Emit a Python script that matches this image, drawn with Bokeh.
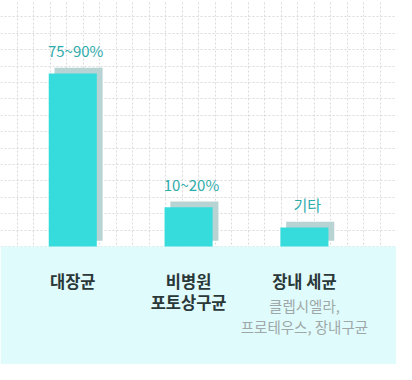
import numpy as np
from bokeh.plotting import figure
from bokeh.models import ColumnDataSource, Grid, FixedTicker, Range1d
from bokeh.core.properties import value
from bokeh.embed import file_html
from bokeh.resources import INLINE

# ---- data ----
categories = ["대장균", "비병원\n포토상구균", "장내 세균"]
range_labels = ["75~90%", "10~20%", "기타"]
values = [82.5, 18.7, 9.1]
sub_labels = ["", "", "클렙시엘라,\n프로테우스, 장내구균"]

# ---- layout / style ----
W, H = 396, 364
X0, X1 = -0.624, 2.795
Y0, Y1 = -56.2, 117.3
BAR_W = 0.415
SH_X = 0.05      # shadow shift right (data units)
SH_Y = 2.74      # shadow shift up (data units)
FONT = "Noto Sans CJK KR"

xs = np.arange(len(categories), dtype=float)
vals = np.array(values, dtype=float)

src = ColumnDataSource(dict(
    x=xs,
    x_sh=xs + SH_X,
    x_lab=xs + SH_X / 2,
    top=vals,
    top_sh=vals + SH_Y,
    cat=categories,
    rng=range_labels,
    sub=sub_labels,
))

p = figure(width=W, height=H, x_range=Range1d(X0, X1), y_range=Range1d(Y0, Y1),
           output_backend="svg", toolbar_location=None,
           x_axis_type=None, y_axis_type=None, min_border=0)
p.outline_line_color = None
p.background_fill_color = "white"
p.border_fill_color = "white"

vticks = list(np.linspace(X0, X1, 25))
hticks = list(np.linspace(0, Y1, 16))
p.add_layout(Grid(dimension=0, ticker=FixedTicker(ticks=vticks),
                  grid_line_color="#dadada", grid_line_dash="2 2", grid_line_width=1))
p.add_layout(Grid(dimension=1, ticker=FixedTicker(ticks=hticks),
                  grid_line_color="#dadada", grid_line_dash="2 2", grid_line_width=1))

# bottom band
p.quad(left=X0, right=X1, bottom=Y0, top=0, fill_color="#e0fbfc", line_color=None)

# shadow bars
p.vbar(x="x_sh", bottom=SH_Y, top="top_sh", width=BAR_W, source=src,
       fill_color="#b8d3d3", line_color=None)
# main bars
p.vbar(x="x", bottom=0, top="top", width=BAR_W, source=src,
       fill_color="#36dcdc", line_color=None)

# value labels
p.text(x="x_lab", y="top_sh", text="rng", source=src,
       text_align="center", text_baseline="bottom", y_offset=-7,
       text_font=value(FONT), text_font_size="15px", text_color="#2eabab")

# category labels
p.text(x="x", y=0, text="cat", source=src,
       text_align="center", text_baseline="top", y_offset=22,
       text_font=value(FONT), text_font_style="bold", text_font_size="16.5px",
       text_color="#2b3838", text_line_height=0.88)

# sub labels
p.text(x="x", y=0, text="sub", source=src,
       text_align="center", text_baseline="top", y_offset=48,
       text_font=value(FONT), text_font_size="14.5px",
       text_color="#9ea8a8", text_line_height=1.0)

open("out.html", "w").write(file_html(p, INLINE))
